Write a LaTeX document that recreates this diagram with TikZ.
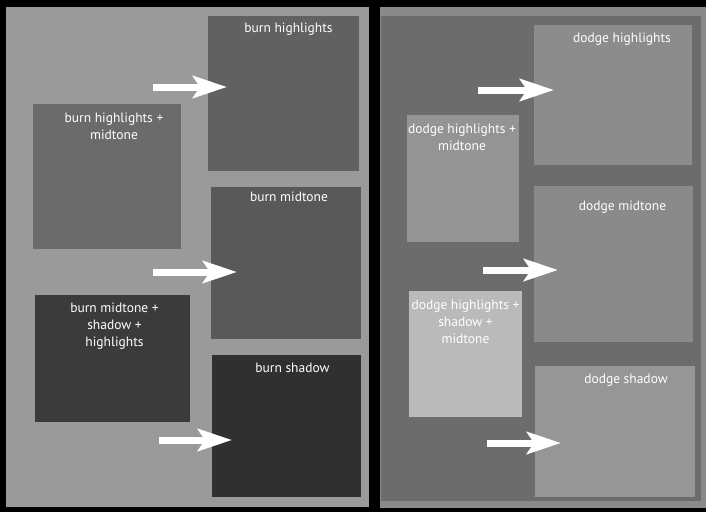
\documentclass[tikz,border=0pt]{standalone}
\usepackage{fontspec}
\setmainfont{PT Sans}
\usepackage{tikz}
\usetikzlibrary{arrows.meta}
\usetikzlibrary{positioning}

\begin{document}
\begin{tikzpicture}[x=1pt, y=-1pt]
    \definecolor{panel_light}{HTML}{9A9A9A}
    \definecolor{panel_band}{HTML}{8A8A8A}
    \definecolor{panel_dark}{HTML}{6C6C6C}
    \tikzstyle{box}=[rectangle, inner sep = 0pt, outer sep = 0pt]
    \tikzstyle{box_text}=[text = white, align = center, inner sep = 0pt,
                          font = \fontsize{13.5}{17}\selectfont]
    \tikzstyle{shift_arrow}=[white, line width = 7pt,
                             -{Stealth[length = 34pt, width = 22pt, inset = 7pt]}]
    \useasboundingbox (0,0) rectangle (706,512);
    \fill[black] (0,0) rectangle (706,512);
    % panels
    \fill[panel_light] (6,7) rectangle (369,507);
    \fill[panel_band] (380,7) rectangle (706,508);
    \fill[panel_dark] (381,16) rectangle (701,501);
    % burn side
    \node[box, fill = black!62, minimum width = 151pt, minimum height = 155pt] (burn_highlights) at (283.5,93.5) {};
    \node[box, fill = black!58, minimum width = 148pt, minimum height = 145pt] (burn_highlights_midtone) at (107,176.5) {};
    \node[box, fill = black!65, minimum width = 150pt, minimum height = 152pt] (burn_midtone) at (286,263) {};
    \node[box, fill = black!77, minimum width = 155pt, minimum height = 127pt] (burn_all) at (112.5,358.5) {};
    \node[box, fill = black!81, minimum width = 149pt, minimum height = 142pt] (burn_shadow) at (286.5,426) {};
    \node[box_text, below = 7pt of burn_highlights.north, xshift = 5pt] (burn_highlights_text) {burn highlights};
    \node[box_text, below = 9pt of burn_highlights_midtone.north, xshift = 7pt] (burn_highlights_midtone_text) {burn highlights +\\midtone};
    \node[box_text, below = 5pt of burn_midtone.north, xshift = 3pt] (burn_midtone_text) {burn midtone};
    \node[box_text, below = 8pt of burn_all.north, xshift = 2pt] (burn_all_text) {burn midtone +\\shadow +\\highlights};
    \node[box_text, below = 8pt of burn_shadow.north, xshift = 6pt] (burn_shadow_text) {burn shadow};
    % dodge side
    \node[box, fill = black!45, minimum width = 158pt, minimum height = 140pt] (dodge_highlights) at (613,95) {};
    \node[box, fill = black!42, minimum width = 112pt, minimum height = 127pt] (dodge_highlights_midtone) at (463,178.5) {};
    \node[box, fill = black!46, minimum width = 159pt, minimum height = 156pt] (dodge_midtone) at (613.5,264) {};
    \node[box, fill = black!27, minimum width = 113pt, minimum height = 126pt] (dodge_all) at (465.5,354) {};
    \node[box, fill = black!41, minimum width = 160pt, minimum height = 131pt] (dodge_shadow) at (615,431.5) {};
    \node[box_text, below = 8pt of dodge_highlights.north, xshift = 9pt] (dodge_highlights_text) {dodge highlights};
    \node[box_text, below = 9pt of dodge_highlights_midtone.north, xshift = -1pt] (dodge_highlights_midtone_text) {dodge highlights +\\midtone};
    \node[box_text, below = 15pt of dodge_midtone.north, xshift = 9pt] (dodge_midtone_text) {dodge midtone};
    \node[box_text, below = 9pt of dodge_all.north, xshift = 0pt] (dodge_all_text) {dodge highlights +\\shadow +\\midtone};
    \node[box_text, below = 8pt of dodge_shadow.north, xshift = 11pt] (dodge_shadow_text) {dodge shadow};
    % arrows
    \coordinate (burn_tail_1) at (153,87);
    \coordinate (burn_tail_2) at (153,272);
    \coordinate (burn_tail_3) at (159,440);
    \coordinate (dodge_tail_1) at (478,90);
    \coordinate (dodge_tail_2) at (483,270);
    \coordinate (dodge_tail_3) at (487,443);
    \draw[shift_arrow] (burn_tail_1) -- ([xshift = 19pt]burn_highlights.west |- burn_tail_1);
    \draw[shift_arrow] (burn_tail_2) -- ([xshift = 26pt]burn_midtone.west |- burn_tail_2);
    \draw[shift_arrow] (burn_tail_3) -- ([xshift = 20pt]burn_shadow.west |- burn_tail_3);
    \draw[shift_arrow] (dodge_tail_1) -- ([xshift = 20pt]dodge_highlights.west |- dodge_tail_1);
    \draw[shift_arrow] (dodge_tail_2) -- ([xshift = 24pt]dodge_midtone.west |- dodge_tail_2);
    \draw[shift_arrow] (dodge_tail_3) -- ([xshift = 26pt]dodge_shadow.west |- dodge_tail_3);
\end{tikzpicture}
\end{document}
